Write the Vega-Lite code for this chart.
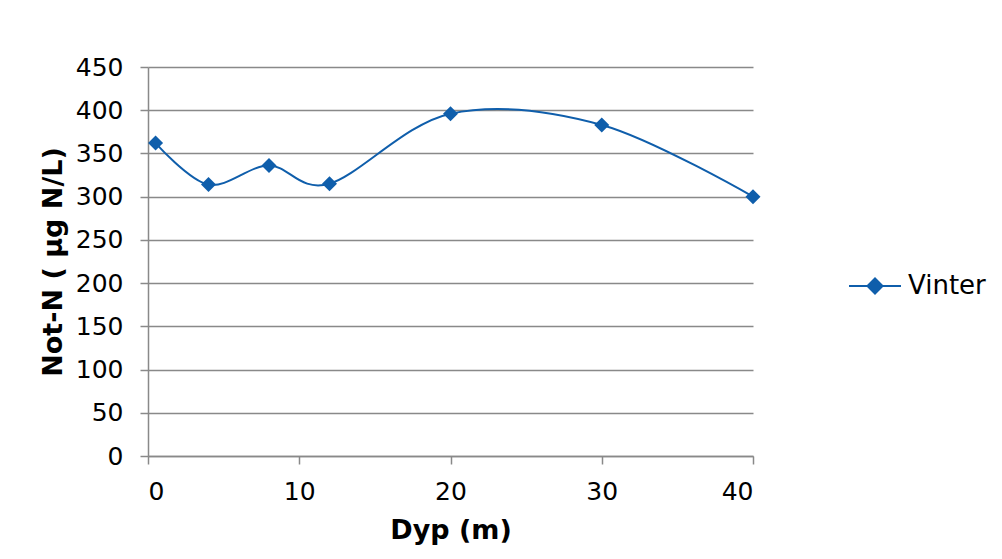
{
  "$schema": "https://vega.github.io/schema/vega-lite/v6.json",
  "width": 605,
  "height": 389,
  "autosize": {"type": "none"},
  "padding": {"left": 148, "top": 67, "right": 249, "bottom": 103},
  "background": "white",
  "data": {
    "values": [
      {"dyp": 0.5, "value": 362, "series": "Vinter"},
      {"dyp": 4, "value": 314, "series": "Vinter"},
      {"dyp": 8, "value": 336, "series": "Vinter"},
      {"dyp": 12, "value": 315, "series": "Vinter"},
      {"dyp": 20, "value": 396, "series": "Vinter"},
      {"dyp": 30, "value": 383, "series": "Vinter"},
      {"dyp": 40, "value": 300, "series": "Vinter"}
    ]
  },
  "mark": {
    "type": "line",
    "interpolate": "cardinal",
    "strokeWidth": 2,
    "point": {"shape": "diamond", "size": 225, "filled": true, "opacity": 1}
  },
  "encoding": {
    "x": {
      "field": "dyp",
      "type": "quantitative",
      "scale": {"domain": [0, 40], "nice": false, "zero": true},
      "axis": {
        "title": "Dyp (m)",
        "values": [0, 10, 20, 30, 40],
        "grid": false,
        "tickSize": 8,
        "labelPadding": 15,
        "titlePadding": 13
      }
    },
    "y": {
      "field": "value",
      "type": "quantitative",
      "scale": {"domain": [0, 450], "nice": false},
      "axis": {
        "title": "Not-N ( µg N/L)",
        "values": [0, 50, 100, 150, 200, 250, 300, 350, 400, 450],
        "grid": true,
        "tickSize": 8,
        "labelPadding": 17,
        "titlePadding": 8
      }
    },
    "color": {
      "field": "series",
      "type": "nominal",
      "scale": {"range": ["#0F5EAB"]},
      "legend": {
        "title": null,
        "orient": "none",
        "legendX": 700,
        "legendY": 192,
        "symbolType": "M-1,0L1,0M-0.29,0L0,-0.29L0.29,0L0,0.29Z",
        "symbolSize": 2704,
        "symbolStrokeWidth": 2,
        "symbolFillColor": "#0F5EAB",
        "symbolStrokeColor": "#0F5EAB",
        "labelFontSize": 26,
        "labelFont": "DejaVu Sans",
        "labelColor": "#000000",
        "labelOffset": 6
      }
    }
  },
  "config": {
    "view": {"stroke": null},
    "axis": {
      "labelFont": "DejaVu Sans",
      "labelFontSize": 25,
      "labelColor": "#000000",
      "titleFont": "DejaVu Sans",
      "titleFontSize": 27,
      "titleFontWeight": "bold",
      "titleColor": "#000000",
      "gridColor": "#898989",
      "gridWidth": 1.5,
      "gridOpacity": 1,
      "domainColor": "#898989",
      "domainWidth": 1.5,
      "tickColor": "#898989",
      "tickWidth": 1.5
    }
  }
}
